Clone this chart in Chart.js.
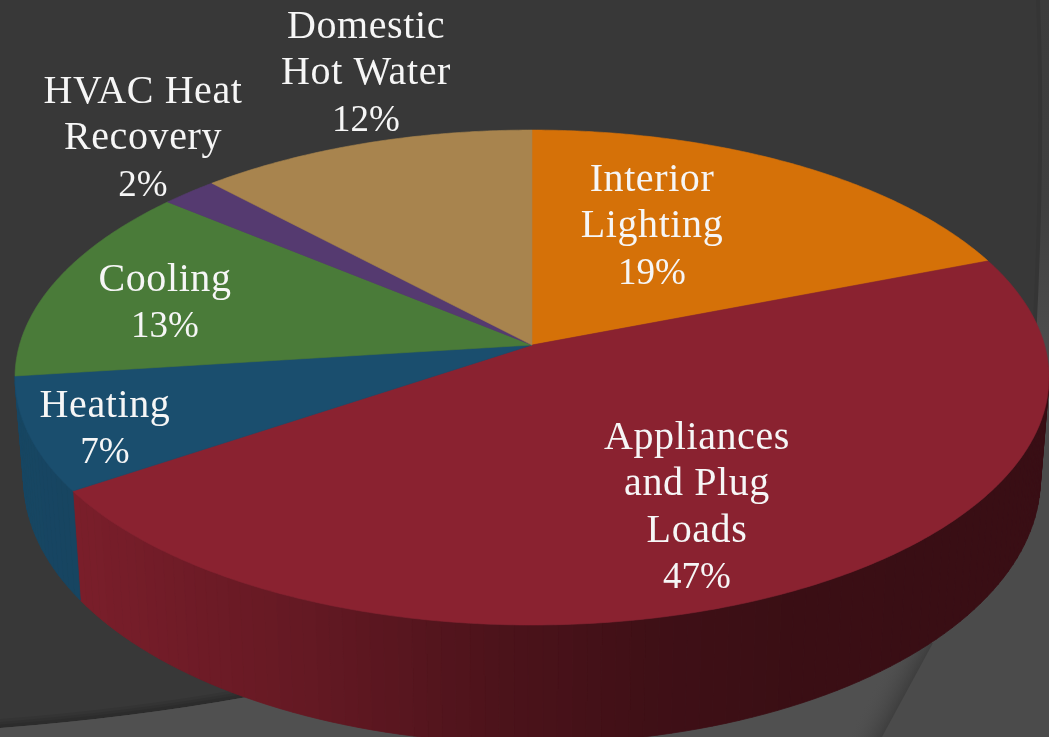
<!DOCTYPE html>
<html><head><meta charset="utf-8">
<style>html,body{margin:0;padding:0;background:#383838;overflow:hidden}canvas{display:block}</style>
<script src="https://cdn.jsdelivr.net/npm/chart.js@4"></script>
</head><body>
<canvas id="c" width="1049" height="737"></canvas>
<script>
const categories = ['Interior Lighting','Appliances and Plug Loads','Heating','Cooling','HVAC Heat Recovery','Domestic Hot Water'];
const values = [19.1,46.5,7.4,13,2,12];
const labelLines = [['Interior','Lighting'],['Appliances','and Plug','Loads'],['Heating'],['Cooling'],['HVAC Heat','Recovery'],['Domestic','Hot Water']];
const sliceColors = ['#d57108','#8a2230','#1a4e6e','#4a7b39','#553a70','#a8844e'];

// label centres (x) and first baselines (y), separate from the data
const labelSpots = [[652,191],[697,449],[105,417],[165,291],[143,103],[366,38]];
const lineHeight = 46.3;

// perspective projection of the flat pie: top face and lower rim of the wall
const persp = -0.1314;
const topFace = {cx:532, cy:345, rx:512.5, ry:243.2};
const lowFace = {cx:532, cy:444, rx:504, ry:260};
const wallFrom = 0.13; // wall is visible where the rim faces the viewer
// wall brightness by projected x: [x, factor]
const wallShade = [[0,.9],[80,.88],[300,.73],[500,.55],[650,.46],[800,.42],[1049,.41]];

function project(face,u,v){
  const w = 1 + persp*v;
  return [face.cx + face.rx*u/w, face.cy + face.ry*v/w];
}
function shadeAt(x){
  for(let i=1;i<wallShade.length;i++){
    if(x<=wallShade[i][0]){
      const a=wallShade[i-1],b=wallShade[i],t=(x-a[0])/(b[0]-a[0]);
      return a[1]+(b[1]-a[1])*t;
    }
  }
  return wallShade[wallShade.length-1][1];
}
function darken(hex,f){
  const n=parseInt(hex.slice(1),16);
  return `rgb(${Math.round((n>>16&255)*f)},${Math.round((n>>8&255)*f)},${Math.round((n&255)*f)})`;
}
function bandEdge(ctx){
  ctx.moveTo(0,728);ctx.quadraticCurveTo(130,718,247,697);ctx.lineTo(600,560);ctx.lineTo(1030,340);
}

const scene3d = {
  id:'scene3d',
  beforeDraw(chart){
    const ctx=chart.ctx,W=chart.width,H=chart.height;
    ctx.save();
    ctx.fillStyle='#383838';ctx.fillRect(0,0,W,H);
    // soft shadow along the dark panel's lower edge
    [18,12,7].forEach(w=>{
      ctx.strokeStyle='rgba(0,0,0,.07)';ctx.lineWidth=w;
      ctx.beginPath();bandEdge(ctx);ctx.stroke();
    });
    // right sliver of the theme's panel
    const g=ctx.createLinearGradient(0,0,0,340);
    g.addColorStop(0,'#3c3c3c');g.addColorStop(.6,'#3f3f3f');g.addColorStop(1,'#4c4c4c');
    ctx.strokeStyle='rgba(0,0,0,.05)';ctx.lineWidth=8;
    ctx.beginPath();ctx.moveTo(1040,0);ctx.quadraticCurveTo(1046,150,1036,340);ctx.stroke();
    ctx.fillStyle=g;
    ctx.beginPath();ctx.moveTo(1040,0);ctx.quadraticCurveTo(1046,150,1036,340);ctx.lineTo(W,340);ctx.lineTo(W,0);ctx.closePath();ctx.fill();
    // lighter lower band of the theme
    ctx.fillStyle='#4b4b4b';
    ctx.beginPath();bandEdge(ctx);ctx.lineTo(W,340);ctx.lineTo(W,H);ctx.lineTo(0,H);ctx.closePath();ctx.fill();
    ctx.fillStyle='#505050';
    ctx.beginPath();bandEdge(ctx);ctx.lineTo(933,643);ctx.lineTo(882,H);ctx.lineTo(0,H);ctx.closePath();ctx.fill();
    // swoosh shadow at the lower right
    const s=ctx.createLinearGradient(908,690,880,675);
    s.addColorStop(0,'rgba(62,62,62,1)');s.addColorStop(1,'rgba(80,80,80,0)');
    ctx.fillStyle=s;
    ctx.beginPath();ctx.moveTo(933,643);ctx.lineTo(882,H);ctx.lineTo(845,H);ctx.lineTo(895,640);ctx.closePath();ctx.fill();
    ctx.restore();
  },
  beforeDatasetDraw(chart,args){
    const ctx=chart.ctx, arcs=chart.getDatasetMeta(args.index).data;
    ctx.save();
    // side wall first
    arcs.forEach((arc,i)=>{
      const n=Math.max(2,Math.ceil((arc.endAngle-arc.startAngle)/0.025));
      for(let k=0;k<n;k++){
        const a0=arc.startAngle+(arc.endAngle-arc.startAngle)*k/n;
        const a1=arc.startAngle+(arc.endAngle-arc.startAngle)*(k+1)/n;
        if(Math.sin(a0)<wallFrom&&Math.sin(a1)<wallFrom) continue;
        const p=project(topFace,Math.cos(a0),Math.sin(a0)),q=project(topFace,Math.cos(a1),Math.sin(a1));
        const r=project(lowFace,Math.cos(a1),Math.sin(a1)),t=project(lowFace,Math.cos(a0),Math.sin(a0));
        const col=darken(sliceColors[i],shadeAt((p[0]+q[0])/2));
        ctx.fillStyle=col;ctx.strokeStyle=col;ctx.lineWidth=.8;
        ctx.beginPath();ctx.moveTo(p[0],p[1]);ctx.lineTo(q[0],q[1]);ctx.lineTo(r[0],r[1]);ctx.lineTo(t[0],t[1]);ctx.closePath();
        ctx.fill();ctx.stroke();
      }
    });
    // top faces
    arcs.forEach((arc,i)=>{
      const n=Math.max(4,Math.ceil((arc.endAngle-arc.startAngle)/0.01));
      ctx.beginPath();
      const c=project(topFace,0,0);ctx.moveTo(c[0],c[1]);
      for(let k=0;k<=n;k++){
        const a=arc.startAngle+(arc.endAngle-arc.startAngle)*k/n;
        const p=project(topFace,Math.cos(a),Math.sin(a));ctx.lineTo(p[0],p[1]);
      }
      ctx.closePath();
      ctx.fillStyle=sliceColors[i];ctx.fill();
      ctx.strokeStyle=sliceColors[i];ctx.lineWidth=.6;ctx.stroke();
    });
    ctx.restore();
    return false;
  },
  afterDraw(chart){
    const ctx=chart.ctx;
    ctx.save();
    ctx.fillStyle='#f6f6f6';ctx.textAlign='center';ctx.textBaseline='alphabetic';
    labelLines.forEach((lines,i)=>{
      ctx.font='40px "Liberation Serif", serif';
      ctx.letterSpacing='0.6px';
      lines.forEach((t,j)=>ctx.fillText(t,labelSpots[i][0],labelSpots[i][1]+j*lineHeight));
      ctx.font='37px "Liberation Serif", serif';
      ctx.letterSpacing='0px';
      ctx.fillText(Math.round(values[i])+'%',labelSpots[i][0],labelSpots[i][1]+lines.length*lineHeight);
    });
    ctx.restore();
  }
};

new Chart(document.getElementById('c').getContext('2d'),{
  type:'pie',
  data:{labels:categories,datasets:[{data:values,backgroundColor:sliceColors,borderWidth:0}]},
  options:{responsive:false,animation:false,plugins:{legend:{display:false},tooltip:{enabled:false}}},
  plugins:[scene3d]
});
</script>
</body></html>
